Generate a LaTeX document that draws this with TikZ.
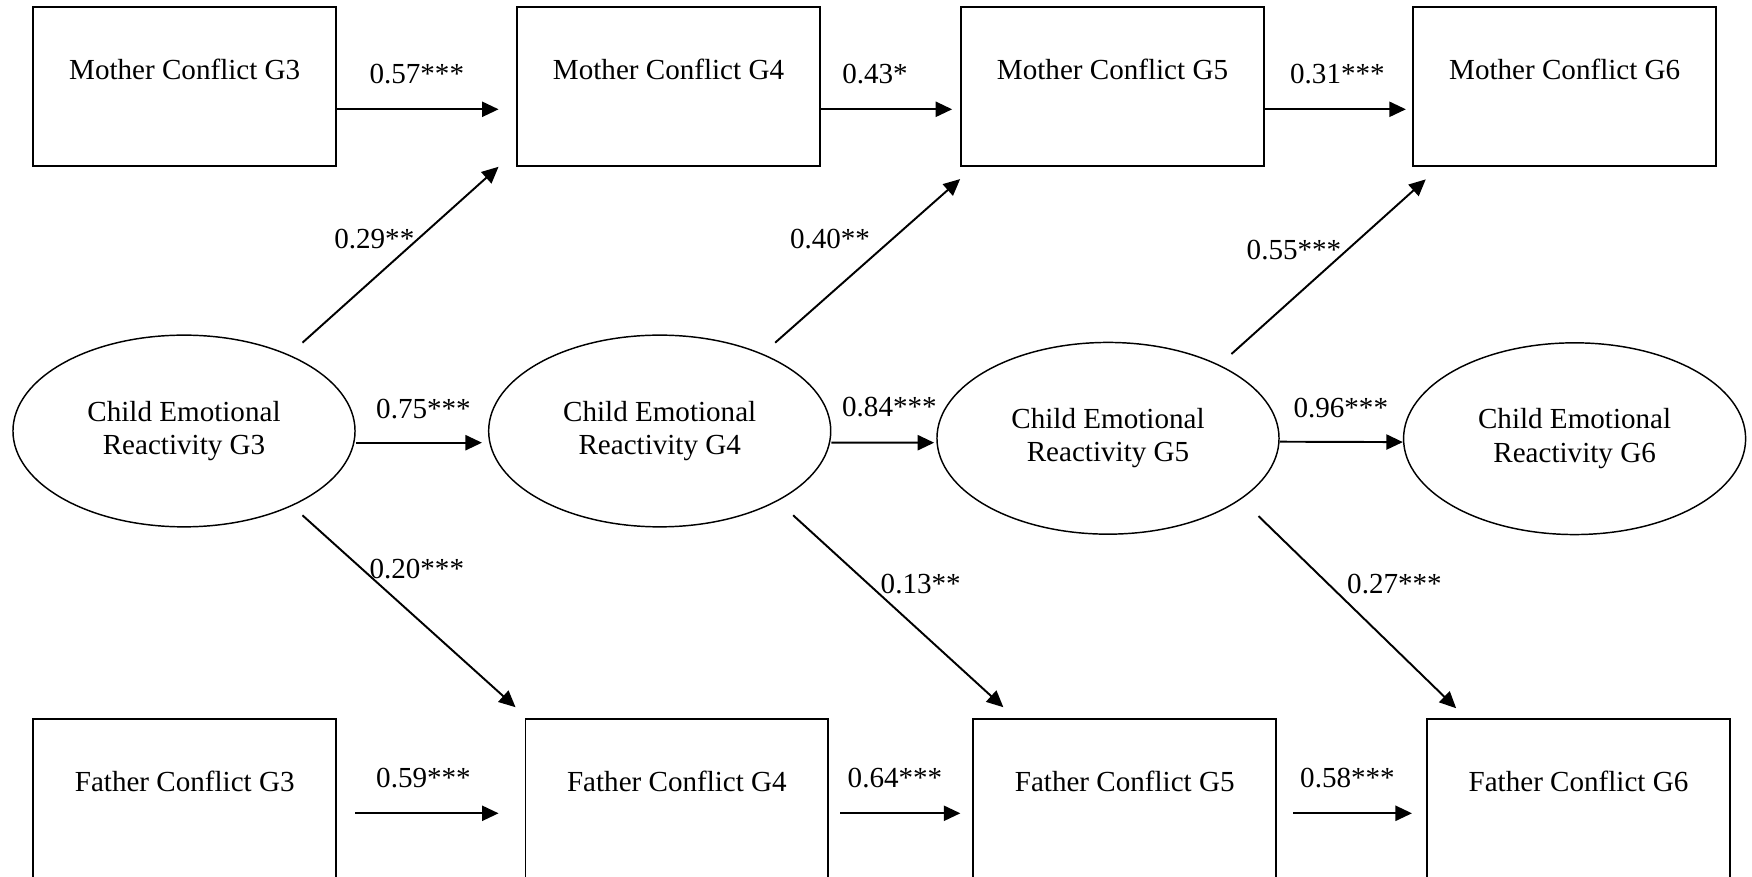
\documentclass[tikz,border=0pt]{standalone}
\usepackage{fontspec}
\setmainfont{Liberation Serif}
\usetikzlibrary{arrows.meta,shapes.geometric}

\tikzset{
  conflict/.style={draw, line width=0.8pt, rectangle, inner sep=0pt,
    minimum width=43.9mm, text height=10.5mm, text depth=12.5mm},
  react/.style={draw, line width=0.6pt, ellipse, inner sep=0pt,
    minimum width=49.6mm, minimum height=27.8mm, align=center},
  coef/.style={inner sep=1pt},
  effect/.style={line width=0.8pt, -{Triangle[length=2.4mm,width=2.2mm]}}
}

\begin{document}
\begin{tikzpicture}[x=0.145mm,y=0.145mm,font=\fontsize{12}{13.8}\selectfont]
\useasboundingbox (0,0) rectangle (1752,876);

% mother conflict
\node[conflict] (m3) at (184.7,789.5) {Mother Conflict G3};
\node[conflict] (m4) at (668.5,789.5) {Mother Conflict G4};
\node[conflict] (m5) at (1112.5,789.5) {Mother Conflict G5};
\node[conflict] (m6) at (1564.7,789.5) {Mother Conflict G6};

% child emotional reactivity
\node[react] (c3) at (184,445) {Child Emotional\\Reactivity G3};
\node[react] (c4) at (659.7,445) {Child Emotional\\Reactivity G4};
\node[react] (c5) at (1108,437.7) {Child Emotional\\Reactivity G5};
\node[react] (c6) at (1574.6,437.3) {Child Emotional\\Reactivity G6};

% father conflict
\node[conflict] (f3) at (184.7,77.5) {Father Conflict G3};
\node[conflict] (f4) at (676.9,77.5) {Father Conflict G4};
\node[conflict] (f5) at (1124.7,77.5) {Father Conflict G5};
\node[conflict] (f6) at (1578.5,77.5) {Father Conflict G6};

% stability paths
\draw[effect, shorten >=2.55mm] ([shift={(0,-22.8)}]m3.east) -- ([shift={(0,-22.8)}]m4.west);
\draw[effect, shorten >=1.16mm] ([shift={(0,-22.8)}]m4.east) -- ([shift={(0,-22.8)}]m5.west);
\draw[effect, shorten >=0.94mm] ([shift={(0,-22.8)}]m5.east) -- ([shift={(0,-22.8)}]m6.west);

\draw[effect, shorten >=0.87mm] ([shift={(0,-11.7)}]c3.east) -- ([shift={(0,-11.7)}]c4.west);
\draw[effect, shorten >=0.3mm] ([shift={(0,-11.7)}]c4.east) -- ([shift={(0,-4.4)}]c5.west);
\draw[effect] ([shift={(0,-3.4)}]c5.east) -- ([shift={(0,-3.4)}]c6.west);

\draw[effect, shorten <=2.61mm, shorten >=3.77mm] ([shift={(0,-14.8)}]f3.east) -- ([shift={(0,-14.8)}]f4.west);
\draw[effect, shorten <=1.62mm, shorten >=1.74mm] ([shift={(0,-14.8)}]f4.east) -- ([shift={(0,-14.8)}]f5.west);
\draw[effect, shorten <=2.32mm, shorten >=2.06mm] ([shift={(0,-14.8)}]f5.east) -- ([shift={(0,-14.8)}]f6.west);

% cross paths
\draw[effect] ([shift={(-3,20)}]c3.north east) -- ([shift={(-17.6,0)}]m4.south west);
\draw[effect] ([shift={(-6,20)}]c4.north east) -- ([shift={(0,-12.3)}]m5.south west);
\draw[effect] ([shift={(2,16)}]c5.north east) -- ([shift={(13.4,-12.6)}]m6.south west);

\draw[effect] ([shift={(-3,-16)}]c3.south east) -- ([shift={(-9,11)}]f4.north west);
\draw[effect] ([shift={(12,-16)}]c4.south east) -- ([shift={(31,11)}]f5.north west);
\draw[effect] ([shift={(29,-9.5)}]c5.south east) -- ([shift={(30,10)}]f6.north west);

% coefficients
\node[coef] (lm34) at (416.8,802.3) {0.57***};
\node[coef] (lm45) at (875,802.3) {0.43*};
\node[coef] (lm56) at (1337.4,802.3) {0.31***};
\node[coef] (lc34) at (423.5,467) {0.75***};
\node[coef] (lc45) at (889.4,469.3) {0.84***};
\node[coef] (lc56) at (1340.8,468.2) {0.96***};
\node[coef] (lf34) at (423.5,98.3) {0.59***};
\node[coef] (lf45) at (895,98.3) {0.64***};
\node[coef] (lf56) at (1347.5,98.3) {0.58***};
\node[coef] (lcm4) at (374.3,636.9) {0.29**};
\node[coef] (lcm5) at (830,637) {0.40**};
\node[coef] (lcm6) at (1294,626) {0.55***};
\node[coef] (lcf4) at (416.8,307.3) {0.20***};
\node[coef] (lcf5) at (920.7,291.6) {0.13**};
\node[coef] (lcf6) at (1394.5,291.6) {0.27***};
\end{tikzpicture}
\end{document}
